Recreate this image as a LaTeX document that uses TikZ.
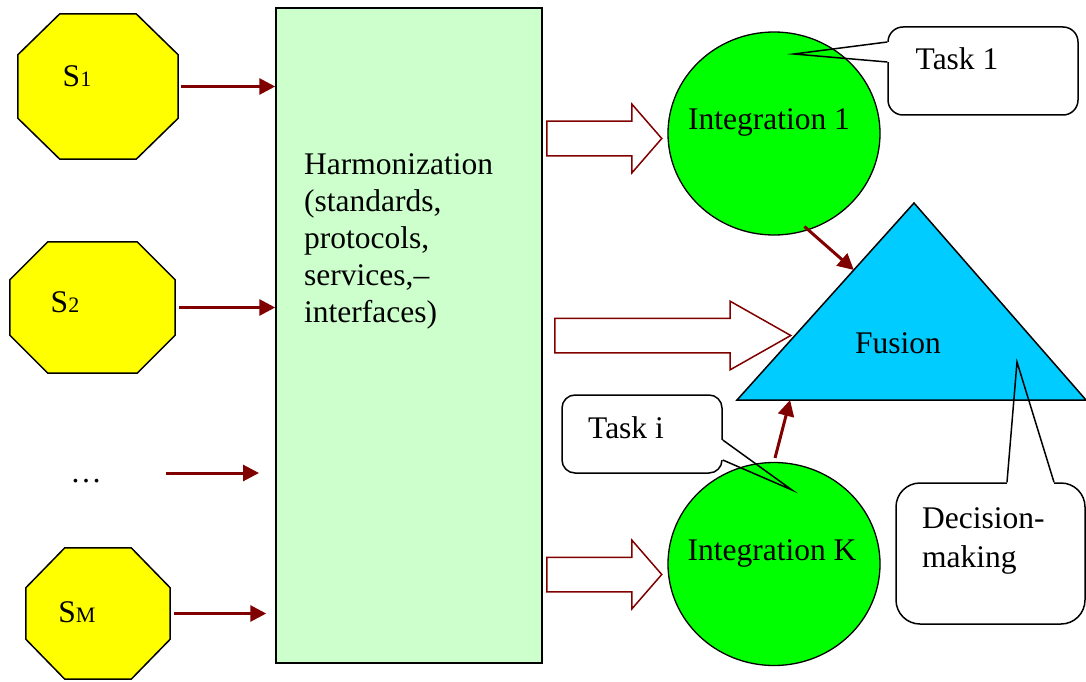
\documentclass[tikz,border=0pt]{standalone}
\usepackage{fontspec}
\setmainfont{Liberation Serif}
\usepackage{tikz}
\usetikzlibrary{arrows.meta,shapes.geometric,shapes.arrows,calc}
\definecolor{srcyellow}{HTML}{FFFF00}
\definecolor{harmgreen}{HTML}{CCFFCC}
\definecolor{intgreen}{HTML}{00FF00}
\definecolor{fuscyan}{HTML}{00CCFF}
\definecolor{darkred}{HTML}{800000}
% octagon round a named node: name, chamfer x, chamfer y
\newcommand{\srcoctagon}[3]{\draw[src] ([xshift=#2]#1.north west) -- ([xshift=-#2]#1.north east)
  -- ([yshift=-#3]#1.north east) -- ([yshift=#3]#1.south east) -- ([xshift=-#2]#1.south east)
  -- ([xshift=#2]#1.south west) -- ([yshift=#3]#1.south west) -- ([yshift=-#3]#1.north west) -- cycle;}
% tail of a callout: base point, tip, base point
\newcommand{\bubbletail}[3]{\draw[white,line width=2.6pt] (#1) -- (#3);
  \draw[bubble,line join=miter] (#1) -- (#2) -- (#3);}

\begin{document}
\begin{tikzpicture}[x=1pt,y=-1pt,
  every node/.style={font=\fontsize{31.5}{37}\selectfont,inner sep=0pt},
  src/.style={draw,line width=1.5pt,fill=srcyellow},
  integ/.style={ellipse,draw,line width=1.3pt,fill=intgreen,minimum width=212pt,minimum height=203pt},
  link/.style={draw=darkred,line width=3pt,-{Triangle[length=16pt,width=16pt]}},
  block/.style={single arrow,draw=darkred,line width=1.5pt,fill=white,anchor=tail,
    text height=0pt,text depth=0pt,inner ysep=16.5pt,inner xsep=0pt,single arrow head extend=17pt},
  bubble/.style={draw,line width=1.5pt}]
  \useasboundingbox (0,0) rectangle (1086,682);

  % sources
  \node[minimum width=160pt,minimum height=145pt] (s1) at (98,86.5) {};
  \node[minimum width=165pt,minimum height=131pt] (s2) at (92.5,307.5) {};
  \node[minimum width=144pt,minimum height=131pt] (sm) at (98,613.5) {};
  \srcoctagon{s1}{42pt}{41pt}
  \srcoctagon{s2}{38pt}{38pt}
  \srcoctagon{sm}{39pt}{40pt}
  \node[anchor=base] (s1text) at (77,87) {S{\fontsize{22}{22}\selectfont 1}};
  \node[anchor=base] (s2text) at (65,312) {S{\fontsize{22}{22}\selectfont 2}};
  \node[anchor=base] (smtext) at (77,622) {S{\fontsize{22}{22}\selectfont M}};
  \node[anchor=base] (dots) at (86,482) {\dots};

  % harmonization
  \node[draw,line width=1.5pt,fill=harmgreen,minimum width=266pt,minimum height=655pt] (harm) at (409,335.5) {};
  \node[anchor=north west,align=left] (harmtext) at (304,153) {Harmonization\\(standards,\\protocols,\\services,–\\interfaces)};

  \draw[link,shorten <=3pt] (s1) -- (s1 -| harm.west);
  \draw[link,shorten <=4pt] (s2) -- (s2 -| harm.west);
  \draw[link,shorten <=4pt,shorten >=9pt] (sm) -- (sm -| harm.west);
  \coordinate (dotsa) at (166,473);
  \coordinate (dotsb) at (259,473);
  \draw[link] (dotsa) -- (dotsb);

  % integration and fusion
  \node[integ] (int1) at (774,133.5) {};
  \node[integ] (intk) at (774,564) {};
  \node[anchor=base] (int1text) at (769,129) {Integration 1};
  \node[anchor=base] (intktext) at (772,560) {Integration K};

  \coordinate (fl) at (737,400);
  \coordinate (ft) at (914,203);
  \coordinate (fr) at (1086,400);
  \draw[line width=1.5pt,fill=fuscyan] (fl) -- (ft) -- (fr) -- cycle;
  \node[anchor=base] (fusion) at (898,353) {Fusion};

  \node[block,minimum height=115pt,single arrow tip angle=98] (blk1) at (546,138.5) {};
  \node[block,minimum height=236pt,single arrow tip angle=59] (blk2) at (554,335.5) {};
  \node[block,minimum height=115pt,single arrow tip angle=98] (blk3) at (546,574.5) {};

  \draw[link] ([shift={(-3pt,4pt)}]int1.-71) -- ($(fl)!0.66!(ft)$);
  \draw[link,shorten <=4pt] (intk.north) -- ($(fl)!0.152!(fr)$);

  % callouts
  \node[bubble,rounded corners=15pt,minimum width=190pt,minimum height=88pt] (task1box) at (983,71) {};
  \coordinate (task1tip) at (794,54);
  \coordinate (task1a) at ([yshift=9pt]task1box.west);
  \coordinate (task1b) at ([yshift=29pt]task1box.west);
  \bubbletail{task1a}{task1tip}{task1b}
  \node[anchor=base] (task1) at (957,70) {Task 1};

  \node[bubble,rounded corners=13pt,minimum width=160pt,minimum height=78pt] (taskibox) at (642,434) {};
  \coordinate (taskitip) at (792,490);
  \coordinate (taskia) at ([yshift=-26pt]taskibox.east);
  \coordinate (taskib) at ([yshift=-6pt]taskibox.east);
  \bubbletail{taskia}{taskitip}{taskib}
  \node[anchor=base] (taski) at (626,438) {Task i};

  \node[bubble,rounded corners=24pt,minimum width=189pt,minimum height=141pt] (decbox) at (990.5,553.5) {};
  \coordinate (dectip) at (1017,362);
  \coordinate (deca) at ([xshift=63.5pt]decbox.north);
  \coordinate (decb) at ([xshift=16.5pt]decbox.north);
  \bubbletail{deca}{dectip}{decb}
  \node[anchor=north west,align=left,font=\fontsize{31.5}{39}\selectfont] (decision) at (922,507) {Decision-\\making};
\end{tikzpicture}
\end{document}
